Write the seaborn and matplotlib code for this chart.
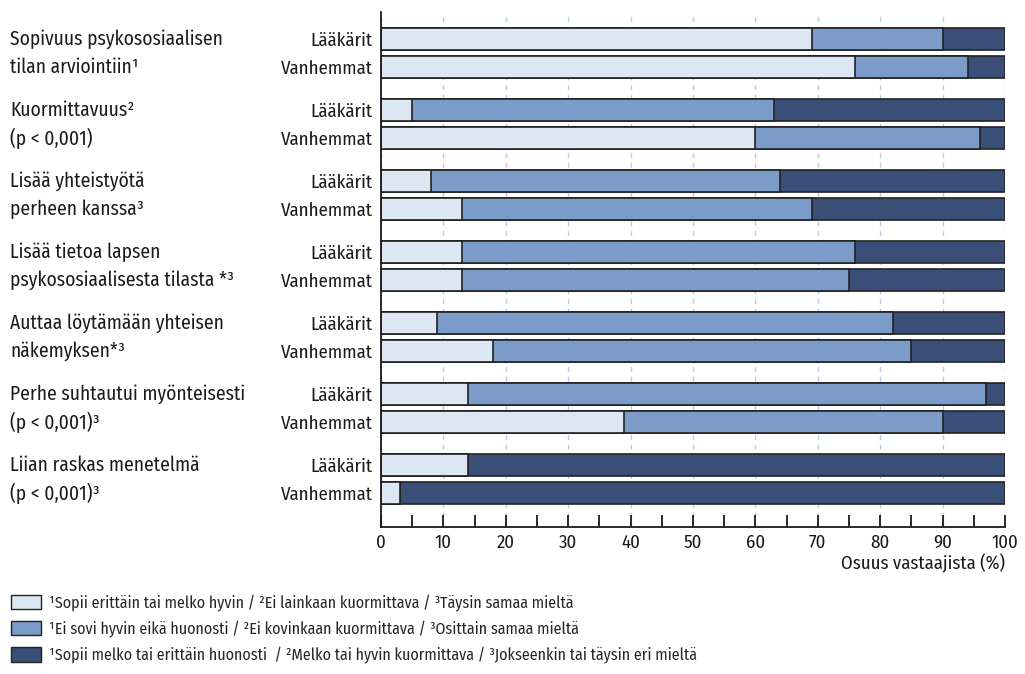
import numpy as np
import pandas as pd
import matplotlib
matplotlib.use("Agg")
import matplotlib.pyplot as plt
from matplotlib.patches import Patch
from matplotlib.transforms import blended_transform_factory
import seaborn as sns

# ---- data ----
categories = [
    "Sopivuus psykososiaalisen\ntilan arviointiin¹",
    "Kuormittavuus²\n(p < 0,001)",
    "Lisää yhteistyötä\nperheen kanssa³",
    "Lisää tietoa lapsen\npsykososiaalisesta tilasta *³",
    "Auttaa löytämään yhteisen\nnäkemyksen*³",
    "Perhe suhtautui myönteisesti\n(p < 0,001)³",
    "Liian raskas menetelmä\n(p < 0,001)³",
]
groups = ["Lääkärit", "Vanhemmat"]
# share (%) per category: [Lääkärit, Vanhemmat]
good = [[69, 76], [5, 60], [8, 13], [13, 13], [9, 18], [14, 39], [14, 3]]
neutral = [[21, 18], [58, 36], [56, 56], [63, 62], [73, 67], [83, 51], [0, 0]]
bad = [[10, 6], [37, 4], [36, 31], [24, 25], [18, 15], [3, 10], [86, 97]]
legend_labels = [
    "¹Sopii erittäin tai melko hyvin / ²Ei lainkaan kuormittava / ³Täysin samaa mieltä",
    "¹Ei sovi hyvin eikä huonosti / ²Ei kovinkaan kuormittava / ³Osittain samaa mieltä",
    "¹Sopii melko tai erittäin huonosti  / ²Melko tai hyvin kuormittava / ³Jokseenkin tai täysin eri mieltä",
]
xticks = [0, 10, 20, 30, 40, 50, 60, 70, 80, 90, 100]
xlabel = "Osuus vastaajista (%)"

colors = ["#dde7f3", "#7b9bc9", "#3a4f78"]
edge = "#222222"

# ---- build table ----
offset = 0.197
rows = []
for i, cat in enumerate(categories):
    for j, g in enumerate(groups):
        pos = i + (-offset if j == 0 else offset)
        rows.append(dict(cat=cat, group=g, pos=pos,
                         good=good[i][j], neutral=neutral[i][j], bad=bad[i][j]))
df = pd.DataFrame(rows)
df["c1"] = df["good"]
df["c2"] = df["good"] + df["neutral"]
df["c3"] = df["good"] + df["neutral"] + df["bad"]

sns.set_style("white")
plt.rcParams["font.family"] = ["Fira Sans Condensed", "DejaVu Sans"]

fig = plt.figure(figsize=(10.25, 6.74), dpi=100)
ax = fig.add_axes([381 / 1025, 1 - 527 / 674, (1005 - 381) / 1025, (527 - 12) / 674])

bar_h = 0.305
w = bar_h / (2 * offset)
for col, c in zip(["c3", "c2", "c1"], colors[::-1]):
    sns.barplot(data=df, x=col, y="pos", orient="h", native_scale=True,
                color=c, saturation=1, width=w, edgecolor=edge, linewidth=1.2,
                ax=ax, zorder=2)

ax.set_xlim(0, 100)
ax.set_ylim(6.674, -0.575)
ax.set_axisbelow(True)
ax.xaxis.grid(True, linestyle=(0, (3.5, 3.5)), color="#b9cce6", linewidth=1.0)
ax.yaxis.grid(False)

for s in ["top", "right"]:
    ax.spines[s].set_visible(False)
for s in ["left", "bottom"]:
    ax.spines[s].set_visible(True)
    ax.spines[s].set_color("#1a1a1a")
    ax.spines[s].set_linewidth(1.3)

fs = 13.5
ax.set_xticks(xticks)
ax.set_xticklabels([str(t) for t in xticks], fontsize=fs, color="#1a1a1a")
ax.set_xticks(np.arange(5, 100, 10), minor=True)
ax.tick_params(axis="x", which="both", direction="in", length=9, width=1.3,
               color="#1a1a1a", pad=5, bottom=True)

ax.set_yticks(df["pos"])
ax.set_yticklabels(df["group"], fontsize=fs, color="#1a1a1a")
ax.tick_params(axis="y", length=0, pad=6)
ax.set_ylabel("")
ax.set_xlabel("")

fig.text(1005 / 1025, 1 - 563 / 674, xlabel, ha="right", va="center",
         fontsize=fs, color="#1a1a1a")

trans = blended_transform_factory(fig.transFigure, ax.transData)
for i, cat in enumerate(categories):
    l1, l2 = cat.split("\n")
    ax.text(10 / 1025, i - offset, l1, transform=trans, ha="left", va="center",
            fontsize=14, color="#1a1a1a")
    ax.text(10 / 1025, i + offset, l2, transform=trans, ha="left", va="center",
            fontsize=14, color="#1a1a1a")

handles = [Patch(facecolor=c, edgecolor=edge, linewidth=1.0) for c in colors]
fig.legend(handles, legend_labels, loc="upper left",
           bbox_to_anchor=(11 / 1025, 1 - 594 / 674), frameon=False,
           fontsize=11.5, handlelength=1.9, handleheight=1.0,
           handletextpad=0.45, labelspacing=0.58, borderpad=0, borderaxespad=0)

fig.savefig("out.png", dpi=100)
